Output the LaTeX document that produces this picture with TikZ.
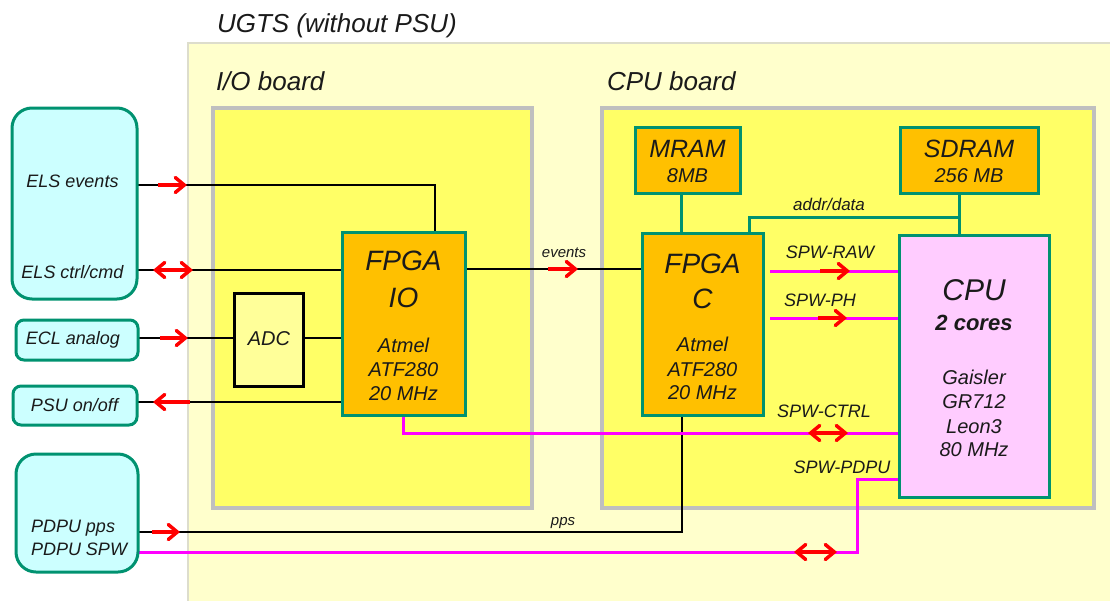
\documentclass[tikz,border=0pt]{standalone}
\usepackage{fontspec}
\setmainfont{Liberation Sans}
\usetikzlibrary{arrows.meta,calc}
\definecolor{bgpanel}{HTML}{FFFFCC}
\definecolor{bgline}{HTML}{DDDDCC}
\definecolor{board}{HTML}{FFFF66}
\definecolor{boardline}{HTML}{BFBFBF}
\definecolor{chip}{HTML}{FFC000}
\definecolor{tealc}{RGB}{0,146,112}
\definecolor{ext}{HTML}{CCFFFF}
\definecolor{cpupink}{HTML}{FFCCFF}
\definecolor{adcfill}{HTML}{FFFF99}
\definecolor{mag}{HTML}{FF00FF}
\definecolor{txt}{HTML}{1A1A1A}
\pgfdeclarelayer{back}
\pgfsetlayers{back,main}
\begin{document}
\begin{tikzpicture}[x=1pt,y=-1pt,
  every node/.style={inner sep=0pt, outer sep=0pt},
  boardbox/.style={draw=boardline, line width=3.5pt, fill=board},
  chipbox/.style={draw=tealc, line width=3pt, fill=chip},
  extbox/.style={draw=tealc, line width=3pt, fill=ext},
  wire/.style={draw=black, line width=2pt},
  spw/.style={draw=mag, line width=3pt},
  bus/.style={draw=tealc, line width=3pt},
  mk/.style={draw=red, line width=3.5pt, -{Straight Barb[length=9pt,width=15pt,line cap=round]}},
  mkk/.style={draw=red, line width=3.5pt, {Straight Barb[length=9pt,width=15pt,line cap=round]}-{Straight Barb[length=9pt,width=15pt,line cap=round]}},
  lbl/.style={font=\fontsize{18}{20}\selectfont\itshape, text=txt, anchor=base},
  small/.style={font=\fontsize{15}{17}\selectfont\itshape, text=txt, anchor=base},
  big/.style={font=\fontsize{28}{30}\selectfont\itshape, text=txt, anchor=base},
  mid/.style={font=\fontsize{20}{22}\selectfont\itshape, text=txt, anchor=base},
  title/.style={font=\fontsize{26}{28}\selectfont\itshape, text=txt, anchor=base west},
]
\useasboundingbox (0,0) rectangle (1110,600);

\begin{pgfonlayer}{back}
\fill[white] (0,0) rectangle (1110,600);
\draw[fill=bgpanel, draw=bgline, line width=1.5pt] (188,43) rectangle (1125,615);
\node[boardbox, minimum width=319pt, minimum height=400pt] (iob) at (372.5,308) {};
\node[boardbox, minimum width=492pt, minimum height=400pt] (cpub) at (848,308) {};
\end{pgfonlayer}

% external boxes
\node[extbox, rounded corners=20pt, minimum width=125pt, minimum height=191pt] (els) at (74.5,203.5) {};
\node[extbox, rounded corners=8pt, minimum width=122pt, minimum height=40pt] (ecl) at (77,340) {};
\node[extbox, rounded corners=8pt, minimum width=124pt, minimum height=39pt] (psu) at (75,405.5) {};
\node[extbox, rounded corners=20pt, minimum width=122pt, minimum height=118pt] (pdpu) at (77,513) {};

% chips
\node[chipbox, minimum width=123pt, minimum height=183pt] (fpgaio) at (403.5,323.5) {};
\node[draw=black, line width=3pt, fill=adcfill, minimum width=69pt, minimum height=93pt] (adc) at (268.5,339.5) {};
\node[chipbox, minimum width=121pt, minimum height=182pt] (fpgac) at (702.5,324) {};
\node[chipbox, minimum width=105pt, minimum height=66pt] (mram) at (687.5,160) {};
\node[chipbox, minimum width=138pt, minimum height=66pt] (sdram) at (969,160) {};
\node[draw=tealc, line width=3pt, fill=cpupink, minimum width=150pt, minimum height=262pt] (cpu) at (974,366) {};

% connectors (behind boxes)
\begin{pgfonlayer}{back}
\draw[wire] (els.east |- 0,185) -| (fpgaio.north -| 435,0);
\draw[wire] (els.east |- 0,270) -- (fpgaio.west |- 0,270);
\draw[wire] (ecl.east |- 0,338) -- (adc.west |- 0,338);
\draw[wire] (adc.east |- 0,338) -- (fpgaio.west |- 0,338);
\draw[wire] (fpgaio.west |- 0,402) -- (psu.east |- 0,402);
\draw[wire] (fpgaio.east |- 0,269) -- (fpgac.west |- 0,269);
\draw[wire] (fpgac.south -| 682,0) |- (pdpu.east |- 0,532);
\draw[bus] (mram.south -| 681,0) -- (fpgac.north -| 681,0);
\draw[bus] (sdram.south -| 959,0) -- (cpu.north -| 959,0);
\coordinate (busj) at (959,217);
\draw[bus] (fpgac.north -| 749,0) |- (busj);
\draw[spw] ($(fpgac.east |- 0,271)+(7,0)$) -- (cpu.west |- 0,271);
\draw[spw] ($(fpgac.east |- 0,318)+(7,0)$) -- (cpu.west |- 0,318);
\draw[spw] (fpgaio.south) |- (cpu.west |- 0,433);
\coordinate (pdpubend) at (857,479);
\draw[spw] (cpu.west |- 0,479) -- (pdpubend) |- (pdpu.east |- 0,552);
\end{pgfonlayer}

% direction markers
\draw[mk] (158,185) -- (187,185);
\draw[mkk] (153,270) -- (193,270);
\draw[mk] (160,338) -- (188,338);
\draw[mk] (190,402) -- (153,402);
\draw[mk] (548,269) -- (578,269);
\draw[mk] (820,271) -- (850,271);
\draw[mk] (818,318) -- (847,318);
\draw[mkk] (808,433) -- (848,433);
\draw[mkk] (794,552) -- (837,552);
\draw[mk] (152,532) -- (180,532);

% titles
\node[title] (tugts) at (217,32) {UGTS (without PSU)};
\node[title] (tiob) at (216,90) {I/O board};
\node[title] (tcpub) at (607,90) {CPU board};

% external texts
\node[lbl] (tels1) at (72.5,187) {ELS events};
\node[lbl] (tels2) at (72.5,278) {ELS ctrl/cmd};
\node[lbl] (tecl) at (73,344) {ECL analog};
\node[lbl] (tpsu) at (74.5,411) {PSU on/off};
\node[lbl, anchor=base west] (tpd1) at (31,532) {PDPU pps};
\node[lbl, anchor=base west] (tpd2) at (31,555) {PDPU SPW};

% chip texts
\node[mid] (tadc) at (269,345) {ADC};
\node[big] (tio1) at (403.5,270) {FPGA};
\node[big] (tio2) at (403.5,307) {IO};
\node[mid] (tio3) at (403.5,352) {Atmel};
\node[mid] (tio4) at (403.5,376) {ATF280};
\node[mid] (tio5) at (403.5,400) {20 MHz};
\node[big] (tc1) at (702.5,273) {FPGA};
\node[big] (tc2) at (702.5,308) {C};
\node[mid] (tc3) at (702.5,351) {Atmel};
\node[mid] (tc4) at (702.5,376) {ATF280};
\node[mid] (tc5) at (702.5,399) {20 MHz};
\node[font=\fontsize{25}{27}\selectfont\itshape, text=txt, anchor=base] (tm1) at (687.5,157) {MRAM};
\node[mid] (tm2) at (687.5,182) {8MB};
\node[font=\fontsize{25}{27}\selectfont\itshape, text=txt, anchor=base] (ts1) at (969,157) {SDRAM};
\node[mid] (ts2) at (969,182) {256 MB};
\node[font=\fontsize{30}{32}\selectfont\itshape, text=txt, anchor=base] (tcpu1) at (974,300) {CPU};
\node[font=\fontsize{22}{24}\selectfont\bfseries\itshape, text=txt, anchor=base] (tcpu2) at (974,330) {2 cores};
\node[mid] (tcpu3) at (974,384) {Gaisler};
\node[mid] (tcpu4) at (974,408) {GR712};
\node[mid] (tcpu5) at (974,433) {Leon3};
\node[mid] (tcpu6) at (974,456) {80 MHz};

% connector labels
\node[font=\fontsize{17}{19}\selectfont\itshape, text=txt, anchor=base] (taddr) at (829,210) {addr/data};
\node[small] (tev) at (564,257) {events};
\node[small] (tpps) at (563,525) {pps};
\node[lbl] (traw) at (830,258) {SPW-RAW};
\node[lbl] (tph) at (820,306) {SPW-PH};
\node[lbl] (tctrl) at (824,417) {SPW-CTRL};
\node[lbl] (tpdpu) at (842,473) {SPW-PDPU};
\end{tikzpicture}
\end{document}
